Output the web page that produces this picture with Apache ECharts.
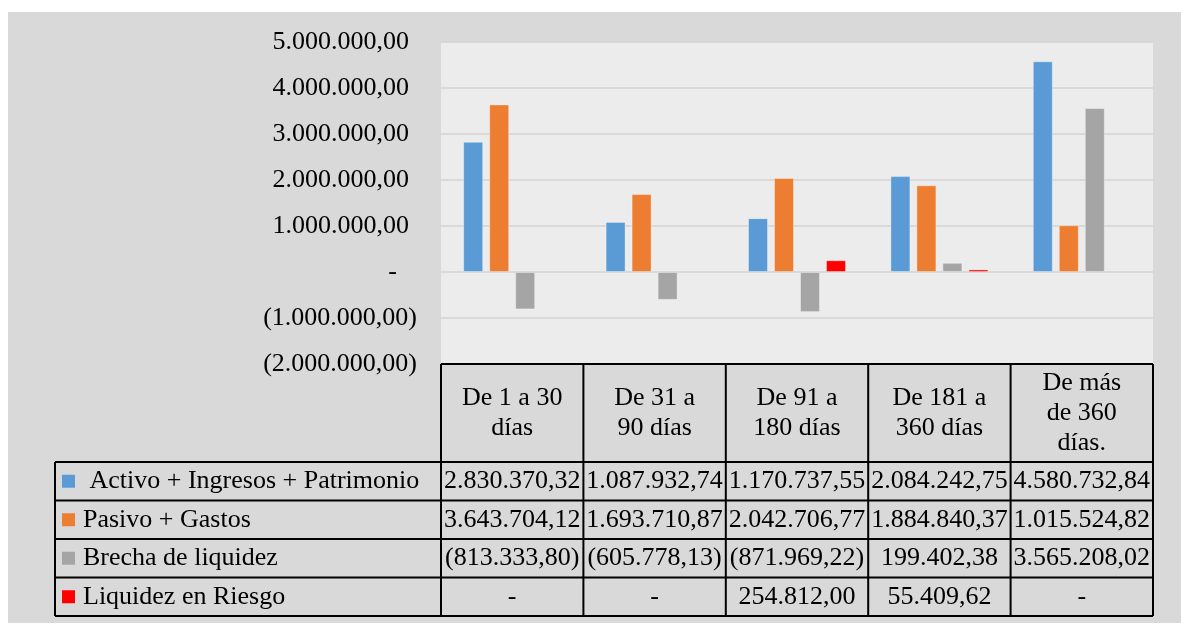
<!DOCTYPE html>
<html lang="es">
<head>
    <meta charset="UTF-8">
    <title>Brecha de liquidez</title>
    <script src="https://cdn.jsdelivr.net/npm/echarts@6/dist/echarts.min.js"></script>
    <style>
        html, body { margin: 0; padding: 0; background: #fff; }
        #chart { width: 1187px; height: 625px; }
    </style>
</head>
<body>
    <div id="chart"></div>

    <script>
        // #region datos
        var categorias = ["De 1 a 30\ndías", "De 31 a\n90 días", "De 91 a\n180 días", "De 181 a\n360 días", "De más\nde 360\ndías."]
        var activo = [2830370.32, 1087932.74, 1170737.55, 2084242.75, 4580732.84]
        var pasivo = [3643704.12, 1693710.87, 2042706.77, 1884840.37, 1015524.82]
        var brecha = [-813333.80, -605778.13, -871969.22, 199402.38, 3565208.02]
        var riesgo = [0, 0, 254812.00, 55409.62, 0]
        var nombres = [" Activo + Ingresos + Patrimonio", "Pasivo + Gastos", "Brecha de liquidez", "Liquidez en Riesgo"]
        var colores = ["#5b9bd5", "#ed7d31", "#a5a5a5", "#ff0000"]
        var ejeY = { min: -2000000, max: 5000000, interval: 1000000 }
        // #endregion

        var FONT = '"Liberation Serif", "Times New Roman", serif'
        var gridLeft = 441, gridTop = 42, gridRight = 34, gridBottom = 261

        // formato contable: 1.234.567,89 / (123,45) / -
        function formato(v) {
            if (v === 0) return "-"
            var s = Math.abs(v).toFixed(2).split(".")
            var ent = s[0].replace(/\B(?=(\d{3})+(?!\d))/g, ".")
            var txt = ent + "," + s[1]
            return v < 0 ? "(" + txt + ")" : txt
        }

        var chart = echarts.init(document.getElementById("chart"))
        var series = [activo, pasivo, brecha, riesgo].map(function (d, i) {
            return {
                name: nombres[i],
                type: "bar",
                // los ceros no se dibujan (en la tabla salen como "-")
                data: d.map(function (v) { return v === 0 ? "-" : v }),
                barWidth: 20,
                barGap: "30%",
                itemStyle: { color: colores[i], borderColor: "rgba(255,255,255,0.35)", borderWidth: 1 }
            }
        })

        chart.setOption({
            animation: false,
            backgroundColor: "#fff",
            grid: {
                left: gridLeft, right: gridRight, top: gridTop, bottom: gridBottom,
                show: true, backgroundColor: "#ececec", borderWidth: 0
            },
            xAxis: {
                type: "category",
                data: categorias,
                axisLine: { show: false },
                axisTick: { show: false },
                axisLabel: { show: false }
            },
            yAxis: {
                type: "value",
                min: ejeY.min, max: ejeY.max, interval: ejeY.interval,
                axisLine: { show: false },
                axisTick: { show: false },
                splitLine: { lineStyle: { color: "#d3d3d3", width: 1.5 } },
                axisLabel: {
                    margin: 24,
                    formatter: function (v) {
                        var k = v === 0 ? "d" : (v > 0 ? "p" : "n")
                        return "{" + k + "|" + formato(v) + "}"
                    },
                    rich: {
                        p: { fontFamily: FONT, fontSize: 26, color: "#000", padding: [0, 8, 0, 0] },
                        n: { fontFamily: FONT, fontSize: 26, color: "#000" },
                        d: { fontFamily: FONT, fontSize: 26, color: "#000", padding: [0, 20, 0, 0] }
                    }
                }
            },
            series: series
        })

        // #region tabla de datos
        var W = 1187, H = 625
        var plotRight = W - gridRight
        var tablaTop = H - gridBottom
        var headerH = 98, rowH = 38.5
        var tablaLeft = 55
        var centros = categorias.map(function (c, i) { return chart.convertToPixel({ xAxisIndex: 0 }, i) })
        var banda = (plotRight - gridLeft) / categorias.length
        var bordes = [gridLeft].concat(centros.map(function (c) { return c + banda / 2 }))
        var filasTop = tablaTop + headerH
        var tablaBottom = filasTop + rowH * nombres.length

        var elems = []
        elems.push({ type: "rect", z: -1, silent: true, shape: { x: 8, y: 12, width: 1173, height: 611 }, style: { fill: "#d9d9d9" } })

        function linea(x1, y1, x2, y2) {
            elems.push({ type: "line", z: 10, silent: true, shape: { x1: x1, y1: y1, x2: x2, y2: y2 }, style: { stroke: "#000", lineWidth: 2 } })
        }
        function texto(t, x, y, align) {
            elems.push({ type: "text", z: 11, silent: true, style: { text: t, x: x, y: y, align: align, verticalAlign: "middle", font: "26px " + FONT, fill: "#000", lineHeight: 30 } })
        }

        // lineas horizontales
        linea(gridLeft, tablaTop, plotRight, tablaTop)
        for (var r = 0; r <= nombres.length; r++) {
            linea(tablaLeft, filasTop + r * rowH, plotRight, filasTop + r * rowH)
        }
        // lineas verticales
        linea(tablaLeft, filasTop, tablaLeft, tablaBottom)
        bordes.forEach(function (x) { linea(x, tablaTop, x, tablaBottom) })

        // encabezados
        categorias.forEach(function (c, i) {
            texto(c, centros[i], tablaTop + headerH / 2, "center")
        })

        // filas
        var datos = [activo, pasivo, brecha, riesgo]
        nombres.forEach(function (n, r) {
            var cy = filasTop + r * rowH + rowH / 2
            elems.push({ type: "rect", z: 11, silent: true, shape: { x: 62, y: cy - 6.5, width: 13, height: 13 }, style: { fill: colores[r] } })
            texto(n, 83, cy, "left")
            datos[r].forEach(function (v, i) { texto(formato(v), centros[i], cy, "center") })
        })

        chart.setOption({ graphic: elems })
        // #endregion
    </script>
</body>
</html>
